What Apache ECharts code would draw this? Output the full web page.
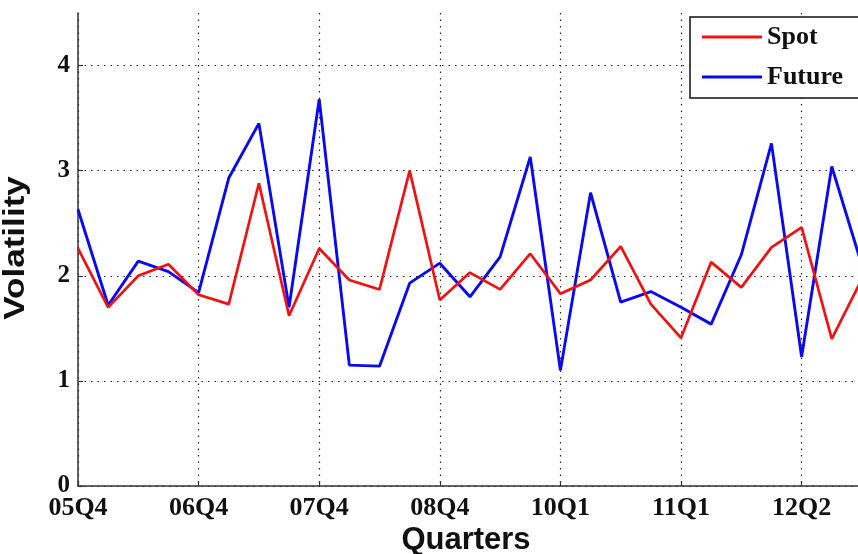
<!DOCTYPE html>
<html>
<head>
<meta charset="utf-8">
<script src="https://cdn.jsdelivr.net/npm/echarts@6/dist/echarts.min.js"></script>
<style>html,body{margin:0;padding:0;background:#fff;}#c{width:858px;height:554px;}</style>
</head>
<body>
<div id="c"></div>
<script>
// Quarter index (0 = 05Q4); one point per quarter
const tickLabels = ['05Q4', '06Q4', '07Q4', '08Q4', '10Q1', '11Q1', '12Q2'];
const xTicks = [0, 4, 8, 12, 16, 20, 24];
const spot = [2.26, 1.70, 2.00, 2.11, 1.82, 1.73, 2.88, 1.62, 2.26, 1.96, 1.87, 3.00, 1.77, 2.03, 1.87, 2.21, 1.83, 1.96, 2.28, 1.73, 1.41, 2.13, 1.89, 2.27, 2.46, 1.40, 1.97];
const future = [2.63, 1.72, 2.14, 2.04, 1.84, 2.93, 3.45, 1.70, 3.68, 1.15, 1.14, 1.93, 2.12, 1.80, 2.18, 3.13, 1.10, 2.79, 1.75, 1.85, 1.70, 1.54, 2.20, 3.26, 1.23, 3.04, 2.10];
const yTicks = [0, 1, 2, 3, 4];

const chart = echarts.init(document.getElementById('c'), null, {renderer: 'canvas'});
const serif = "'Liberation Serif', 'Times New Roman', serif";
const sans = "'Liberation Sans', Arial, sans-serif";
const dotted = {color: '#222', width: 1.2, type: [1.5, 5]};

chart.setOption({
  animation: false,
  backgroundColor: '#fff',
  grid: {left: 78, top: 13, right: 0, bottom: 68, containLabel: false},
  xAxis: {
    type: 'value', min: 0, max: 25.87,
    axisLine: {show: true, lineStyle: {color: '#333', width: 1.5}},
    axisTick: {show: true, inside: true, length: 5, customValues: xTicks, lineStyle: {color: '#333', width: 1.2}},
    axisLabel: {
      margin: 9, color: '#111', fontFamily: serif, fontWeight: 'bold', fontSize: 26,
      customValues: xTicks,
      formatter: v => tickLabels[xTicks.indexOf(Math.round(v))] || ''
    },
    splitLine: {show: true, lineStyle: dotted}
  },
  yAxis: {
    type: 'value', min: 0, max: 4.5,
    axisLine: {show: true, lineStyle: {color: '#333', width: 1.5}},
    axisTick: {show: true, inside: true, length: 5, customValues: yTicks, lineStyle: {color: '#333', width: 1.2}},
    axisLabel: {margin: 8, color: '#111', fontFamily: serif, fontWeight: 'bold', fontSize: 25, customValues: yTicks},
    splitLine: {show: true, lineStyle: dotted}
  },
  legend: {
    orient: 'vertical', left: 690, top: 17,
    padding: [5, 60, 6, 12], itemGap: 10,
    itemWidth: 60, itemHeight: 3, icon: 'rect',
    backgroundColor: '#fff', borderColor: '#111', borderWidth: 1.5, borderRadius: 0,
    textStyle: {fontFamily: serif, fontWeight: 'bold', fontSize: 26, color: '#111', lineHeight: 30},
    data: ['Spot', 'Future']
  },
  graphic: [
    {type: 'text', x: 16, y: 248, rotation: Math.PI / 2, scaleX: 1.17,
     style: {text: 'Volatility', fontFamily: sans, fontWeight: 'bold', fontSize: 30, fill: '#111', align: 'center', verticalAlign: 'middle'}},
    {type: 'text', x: 466, y: 540,
     style: {text: 'Quarters', fontFamily: sans, fontWeight: 'bold', fontSize: 31, fill: '#111', align: 'center', verticalAlign: 'middle'}}
  ],
  series: [
    {name: 'Spot', type: 'line', symbol: 'none', data: spot.map((v, i) => [i, v]),
     lineStyle: {color: '#f01212', width: 2.7}, itemStyle: {color: '#f01212'}, z: 3},
    {name: 'Future', type: 'line', symbol: 'none', data: future.map((v, i) => [i, v]),
     lineStyle: {color: '#0a0aee', width: 2.9}, itemStyle: {color: '#0a0aee'}, z: 2}
  ]
});
</script>
</body>
</html>
